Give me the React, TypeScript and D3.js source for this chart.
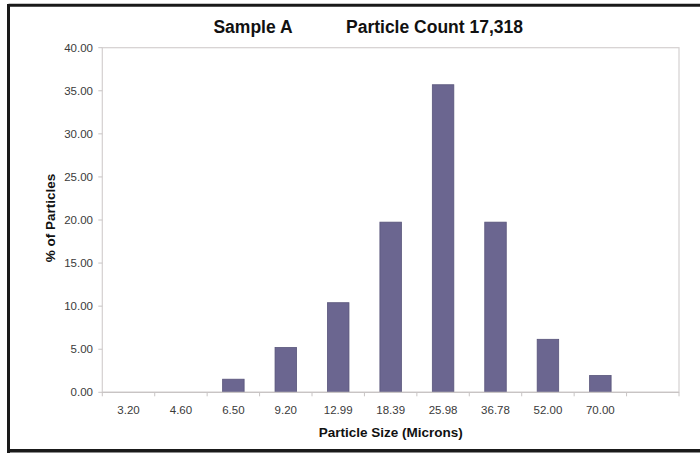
import React from "react";
import * as d3 from "d3";

const categories: string[] = ["3.20", "4.60", "6.50", "9.20", "12.99", "18.39", "25.98", "36.78", "52.00", "70.00", ""];
const percentValues: number[] = [0, 0, 1.52, 5.2, 10.4, 19.75, 35.7, 19.75, 6.15, 1.95, 0];
const yTicks: number[] = [0, 5, 10, 15, 20, 25, 30, 35, 40];
const titleLeft = "Sample A";
const titleRight = "Particle Count 17,318";
const xTitle = "Particle Size (Microns)";
const yTitle = "% of Particles";

const W = 700;
const H = 453;
const plot = { left: 102.3, right: 679, top: 47.7, bottom: 392.3 };
const font = "Arial, 'Liberation Sans', Helvetica, sans-serif";

export default function App() {
  const x = d3
    .scaleBand<string>()
    .domain(categories.map((c, i) => `${i}`))
    .range([plot.left, plot.right])
    .paddingInner(0.59)
    .paddingOuter(0.295);
  const y = d3.scaleLinear().domain([0, 40]).range([plot.bottom, plot.top]);
  const step = x.step();
  const boundaries = d3.range(categories.length + 1).map((i) => plot.left + i * step);

  return (
    <svg
      width={W}
      height={H}
      style={{ position: "absolute", left: 0, top: 0, background: "#fff" }}
      fontFamily={font}
    >
      <rect x={0} y={0} width={W} height={H} fill="#fff" />
      {/* outer frame */}
      <line x1={8.5} x2={W} y1={5.3} y2={5.3} stroke="#1a1a1a" strokeWidth={3} />
      <line x1={8.5} x2={8.5} y1={4} y2={H} stroke="#1a1a1a" strokeWidth={3} />
      <line x1={8.5} x2={W} y1={450.8} y2={450.8} stroke="#1a1a1a" strokeWidth={3.5} />

      {/* titles */}
      <text x={253} y={33} textAnchor="middle" fontSize={17.5} fontWeight="bold" fill="#111">
        {titleLeft}
      </text>
      <text x={434.5} y={33} textAnchor="middle" fontSize={17.5} fontWeight="bold" fill="#111">
        {titleRight}
      </text>

      {/* plot area frame */}
      <rect
        x={plot.left}
        y={plot.top}
        width={plot.right - plot.left}
        height={plot.bottom - plot.top}
        fill="none"
        stroke="#d4d0d0"
        strokeWidth={1.2}
      />

      {/* y ticks and labels */}
      {yTicks.map((t) => (
        <g key={t}>
          <line x1={plot.left - 4} x2={plot.left} y1={y(t)} y2={y(t)} stroke="#c8c4c4" strokeWidth={1} />
          <text
            x={93}
            y={y(t)}
            dy="0.36em"
            textAnchor="end"
            fontSize={11.5}
            fill="#3a3a3a"
          >
            {t.toFixed(2)}
          </text>
        </g>
      ))}

      {/* x tick marks at band boundaries */}
      {boundaries.map((b, i) => (
        <line key={i} x1={b} x2={b} y1={plot.bottom} y2={plot.bottom + 4} stroke="#c8c4c4" strokeWidth={1} />
      ))}

      {/* bars */}
      {percentValues.map((v, i) =>
        v > 0 ? (
          <rect
            key={i}
            x={x(`${i}`)!}
            y={y(v)}
            width={x.bandwidth()}
            height={plot.bottom - y(v)}
            fill="#6b6690"
            stroke="#58547a"
            strokeWidth={0.8}
          />
        ) : null
      )}

      {/* baseline */}
      <line x1={plot.left} x2={plot.right} y1={plot.bottom} y2={plot.bottom} stroke="#c8c4c4" strokeWidth={1.2} />

      {/* x labels */}
      {categories.map((c, i) => (
        <text
          key={i}
          x={x(`${i}`)! + x.bandwidth() / 2}
          y={414}
          textAnchor="middle"
          fontSize={11.5}
          fill="#3a3a3a"
        >
          {c}
        </text>
      ))}

      {/* axis titles */}
      <text x={(plot.left + plot.right) / 2} y={437} textAnchor="middle" fontSize={13.5} fontWeight="bold" fill="#111">
        {xTitle}
      </text>
      <text
        transform={`translate(${54.5},${218}) rotate(-90)`}
        textAnchor="middle"
        fontSize={13.5}
        fontWeight="bold"
        fill="#111"
      >
        {yTitle}
      </text>
    </svg>
  );
}
